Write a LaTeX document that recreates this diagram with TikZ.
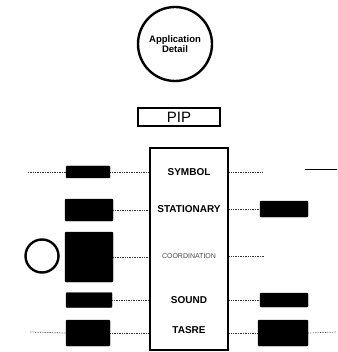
\documentclass[tikz,border=0pt]{standalone}
\usepackage{fontspec}
\setmainfont{Liberation Sans}
\begin{document}
\begin{tikzpicture}[x=1pt,y=-1pt,
  blk/.style={draw=black,fill=black,inner sep=0pt,rounded corners=1pt},
  dots/.style={densely dotted,line width=0.7pt,black!80},
  lbl/.style={font=\fontsize{10}{11}\selectfont\bfseries,inner sep=1pt}]
\useasboundingbox (0,0) rectangle (337,352);
% top circle
\node[draw,circle,line width=2.4pt,minimum size=74pt,align=center,
  font=\fontsize{9.5}{10.5}\selectfont\bfseries,inner sep=0pt] (app) at (175,44) {Application\\Detail};
% PIP
\node[draw,line width=1.3pt,minimum width=82pt,minimum height=18pt,inner sep=0pt,
  font=\fontsize{15}{16}\selectfont] (pip) at (179,117) {PIP};
% main box
\node[draw,line width=2.8pt,minimum width=78pt,minimum height=202pt,inner sep=0pt] (main) at (189,249) {};
% labels
\node[lbl] (sym) at (189,172) {SYMBOL};
\node[lbl] (sta) at (189,209) {STATIONARY};
\node[lbl,font=\fontsize{7}{8}\selectfont,text=black!70] (coo) at (189,256) {COORDINATION};
\node[lbl] (sou) at (189,300) {SOUND};
\node[lbl] (tas) at (189,330) {TASRE};
% left black boxes
\node[blk,minimum width=44pt,minimum height=12pt] (l1) at (88,172) {};
\node[blk,minimum width=48pt,minimum height=22pt] (l2) at (89,210) {};
\node[blk,minimum width=48pt,minimum height=50pt] (l3) at (89,257) {};
\node[blk,minimum width=46pt,minimum height=15pt] (l4) at (89,300) {};
\node[blk,minimum width=44pt,minimum height=26pt] (l5) at (88,333) {};
% left circle
\node[draw,circle,line width=2.4pt,minimum size=33pt,inner sep=0pt] (lc) at (42,256) {};
% right black boxes
\node[blk,minimum width=48pt,minimum height=16pt] (r2) at (284,209) {};
\node[blk,minimum width=48pt,minimum height=14pt] (r4) at (284,300) {};
\node[blk,minimum width=50pt,minimum height=26pt] (r5) at (283,333) {};
% free ends
\coordinate (a1) at (28,172);
\coordinate (a5) at (30,332);
\coordinate (b1) at (262,172);
\coordinate (b3) at (264,256);
\coordinate (b5) at (337,332);
\coordinate (c1) at (305,170);
\coordinate (c2) at (337,170);
% left connectors
\draw[dots] (a1) -- (l1.west);
\draw[dots] (l1.east) -- (l1.east -| main.west);
\draw[dots] (l2.east) -- (l2.east -| main.west);
\draw[dots] (l3.east) -- (l3.east -| main.west);
\draw[dots] (l4.east) -- (l4.east -| main.west);
\draw[dots] (a5) -- (l5.west);
\draw[dots] (l5.east) -- (l5.east -| main.west);
% right connectors
\draw[dots] (b1 -| main.east) -- (b1);
\draw[dots] (r2.west -| main.east) -- (r2.west);
\draw[dots] (b3 -| main.east) -- (b3);
\draw[dots] (r4.west -| main.east) -- (r4.west);
\draw[dots] (r5.west -| main.east) -- (r5.west);
\draw[dots] (r5.east) -- (b5);
\draw[line width=1pt] (c1) -- (c2);
\end{tikzpicture}
\end{document}
